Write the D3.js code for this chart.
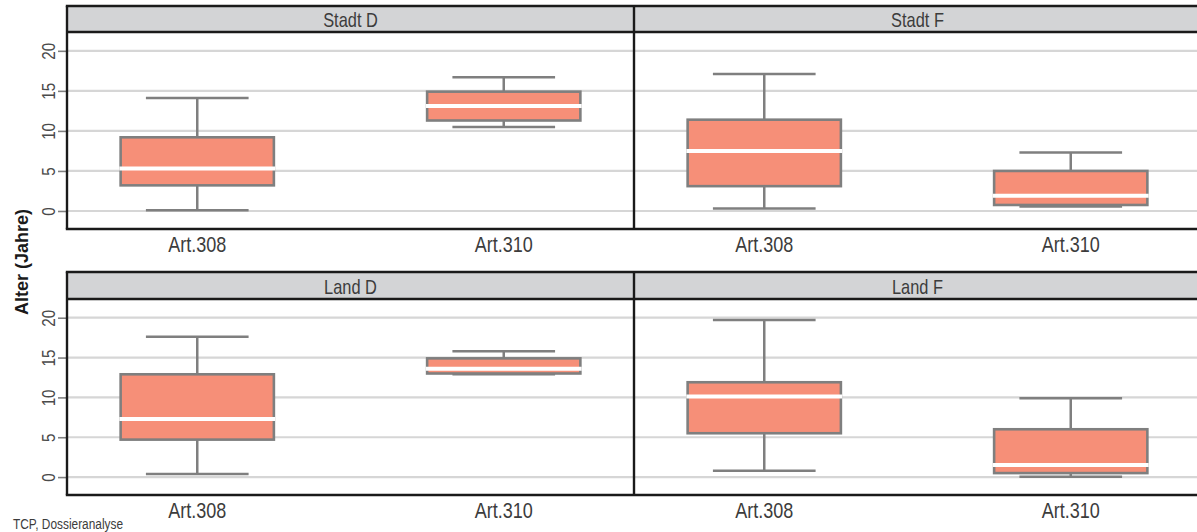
<!DOCTYPE html>
<html>
<head>
<meta charset="utf-8">
<script src="https://cdn.jsdelivr.net/npm/d3@7"></script>
<style>
html,body{margin:0;padding:0;background:#fff;}
svg{display:block;font-family:"Liberation Sans",Arial,sans-serif;}
</style>
</head>
<body>
<svg id="chart" width="1197" height="532"></svg>
<script>
// ---- data ----
const panels = ["Stadt D", "Stadt F", "Land D", "Land F"];
const categories = ["Art.308", "Art.310"];
const whiskerLow  = [[0.1, 10.5], [0.3, 0.55], [0.4, 12.9], [0.8, 0.05]];
const q1          = [[3.2, 11.3], [3.1, 0.75], [4.7, 13.0], [5.5, 0.5]];
const median      = [[5.3, 13.1], [7.5, 1.9],  [7.3, 13.6], [10.1, 1.5]];
const q3          = [[9.2, 14.9], [11.4, 5.0], [12.9, 14.9], [11.9, 6.0]];
const whiskerHigh = [[14.1, 16.7], [17.1, 7.3], [17.6, 15.8], [19.7, 9.9]];
const yTicks = [0, 5, 10, 15, 20];
const yTitle = "Alter (Jahre)";
const source = "TCP, Dossieranalyse";

// ---- layout ----
const W = 1197;
const xLeft = 67, xMid = 634, xRight = 1197;
const panelW = xMid - xLeft;
const rows = [
  {stripTop: 6, stripBottom: 32, plotBottom: 229},
  {stripTop: 272, stripBottom: 299, plotBottom: 495}
];
const cols = [
  {x0: xLeft, x1: xMid},
  {x0: xMid, x1: xMid + panelW}
];
const yDomain = [-2.25, 22.35];
const NARROW = 0.82;

const boxFill = "#f68f78", boxStroke = "#7f7f7f", gridCol = "#d6d6d6";
const stripFill = "#d3d4d6";

const svg = d3.select("#chart");

const xScales = cols.map(c => d3.scaleBand().domain(categories)
  .range([c.x0, c.x1]).paddingInner(0.5).paddingOuter(0.175));
const yScales = rows.map(r => d3.scaleLinear().domain(yDomain).range([r.plotBottom, r.stripBottom]));

// backgrounds, grid
rows.forEach((r, ri) => {
  const y = yScales[ri];
  const g = svg.append("g");
  g.append("rect").attr("x", xLeft).attr("y", r.stripTop).attr("width", W - xLeft)
    .attr("height", r.stripBottom - r.stripTop).attr("fill", stripFill);
  g.selectAll("line.grid").data(yTicks).join("line").attr("class", "grid")
    .attr("x1", xLeft).attr("x2", W).attr("y1", d => y(d)).attr("y2", d => y(d))
    .attr("stroke", gridCol).attr("stroke-width", 2.2);
  // y axis
  const ax = svg.append("g").attr("transform", `translate(${xLeft},0)`)
    .call(d3.axisLeft(y).tickValues(yTicks).tickSize(9).tickPadding(3));
  ax.select(".domain").remove();
  ax.selectAll(".tick line").attr("stroke", "#808080").attr("stroke-width", 1.6);
  ax.selectAll(".tick text").remove();
  ax.selectAll(".tick").append("text")
    .attr("transform", `translate(-12,0) rotate(-90) scale(${NARROW},1)`)
    .attr("text-anchor", "middle").attr("fill", "#4a4a4a")
    .attr("font-size", 18.5).text(d => d);
});

// boxes
panels.forEach((p, pi) => {
  const ri = Math.floor(pi / 2), ci = pi % 2;
  const r = rows[ri], c = cols[ci];
  const x = xScales[ci], y = yScales[ri];
  const bw = x.bandwidth();
  const capW = bw * 0.67;
  const g = svg.append("g");
  categories.forEach((cat, k) => {
    const cx = x(cat) + bw / 2;
    // whiskers
    g.append("line").attr("x1", cx).attr("x2", cx)
      .attr("y1", y(whiskerHigh[pi][k])).attr("y2", y(q3[pi][k]))
      .attr("stroke", boxStroke).attr("stroke-width", 2.5);
    g.append("line").attr("x1", cx).attr("x2", cx)
      .attr("y1", y(q1[pi][k])).attr("y2", y(whiskerLow[pi][k]))
      .attr("stroke", boxStroke).attr("stroke-width", 2.5);
    [whiskerHigh[pi][k], whiskerLow[pi][k]].forEach(v => {
      g.append("line").attr("x1", cx - capW / 2).attr("x2", cx + capW / 2)
        .attr("y1", y(v)).attr("y2", y(v))
        .attr("stroke", boxStroke).attr("stroke-width", 2.5);
    });
    g.append("rect").attr("x", x(cat)).attr("width", bw)
      .attr("y", y(q3[pi][k])).attr("height", y(q1[pi][k]) - y(q3[pi][k]))
      .attr("fill", boxFill).attr("stroke", boxStroke).attr("stroke-width", 2.6);
    g.append("line").attr("x1", x(cat) - 1.3).attr("x2", x(cat) + bw + 1.3)
      .attr("y1", y(median[pi][k])).attr("y2", y(median[pi][k]))
      .attr("stroke", "#ffffff").attr("stroke-width", 4);
    // x label
    g.append("text")
      .attr("transform", `translate(${cx},${r.plotBottom + 23}) scale(${NARROW},1)`)
      .attr("text-anchor", "middle").attr("font-size", 22).attr("fill", "#3c3c3c")
      .text(cat);
  });
  // strip label
  g.append("text")
    .attr("transform", `translate(${(c.x0 + c.x1) / 2},${r.stripBottom - 5.5}) scale(${NARROW},1)`)
    .attr("text-anchor", "middle").attr("font-size", 20).attr("fill", "#3c3c3c")
    .text(p);
});

// frames
rows.forEach(r => {
  const g = svg.append("g").attr("stroke", "#1a1a1a").attr("stroke-width", 2.4);
  g.append("line").attr("x1", xLeft - 1.2).attr("x2", W).attr("y1", r.stripTop).attr("y2", r.stripTop);
  g.append("line").attr("x1", xLeft).attr("x2", W).attr("y1", r.stripBottom).attr("y2", r.stripBottom);
  g.append("line").attr("x1", xLeft - 1.2).attr("x2", W).attr("y1", r.plotBottom).attr("y2", r.plotBottom);
  g.append("line").attr("x1", xLeft).attr("x2", xLeft).attr("y1", r.stripTop).attr("y2", r.plotBottom);
  g.append("line").attr("x1", xMid).attr("x2", xMid).attr("y1", r.stripTop).attr("y2", r.plotBottom);
});

// y title
svg.append("text").attr("transform", "translate(28,262) rotate(-90)")
  .attr("text-anchor", "middle").attr("font-size", 18).attr("font-weight", "bold")
  .attr("fill", "#1a1a1a").text(yTitle);

// source
svg.append("text").attr("transform", `translate(13,529) scale(${NARROW},1)`)
  .attr("font-size", 14.5).attr("fill", "#3c3c3c").text(source);
</script>
</body>
</html>
